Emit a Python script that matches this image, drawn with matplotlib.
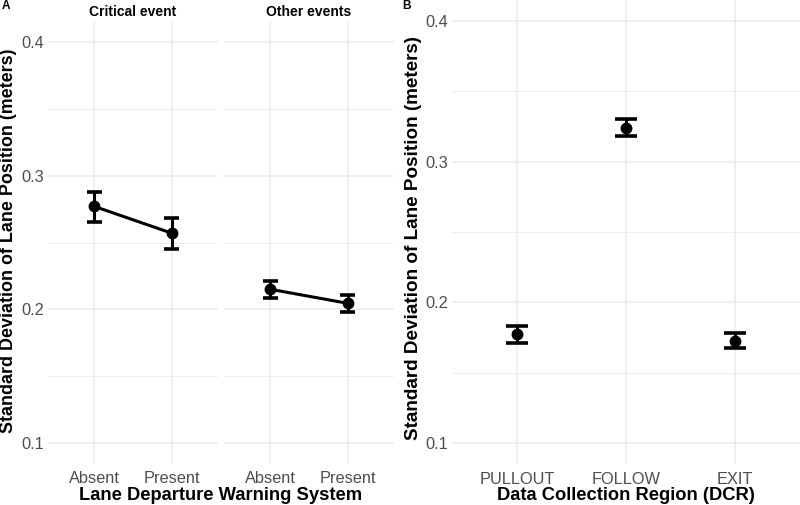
import matplotlib
matplotlib.use("Agg")
import matplotlib.pyplot as plt
from matplotlib.ticker import MultipleLocator

plt.rcParams['font.family'] = ['Liberation Sans', 'DejaVu Sans']

# Panel A data
lwds_levels = ["Absent", "Present"]
facets = ["Critical event", "Other events"]
a_mean = [[0.277, 0.257], [0.215, 0.2045]]
a_low = [[0.265, 0.2455], [0.2082, 0.198]]
a_high = [[0.288, 0.268], [0.2212, 0.2107]]

# Panel B data
dcr_levels = ["PULLOUT", "FOLLOW", "EXIT"]
b_mean = [0.1773, 0.324, 0.1726]
b_low = [0.1714, 0.3184, 0.1672]
b_high = [0.1828, 0.3305, 0.1785]

yticks = [0.1, 0.2, 0.3, 0.4]
ylabel = "Standard Deviation of Lane Position (meters)"

W, H = 800, 505
fig = plt.figure(figsize=(W / 100, H / 100), dpi=100)

def rect(x0, x1, ytop, ybot):
    return [x0 / W, (H - ybot) / H, (x1 - x0) / W, (ybot - ytop) / H]

grid_c = "#ebebeb"
tick_c = "#4d4d4d"
TICK_FS = 11.8
TITLE_FS = 13.2

def style(ax, n, labels, show_y=True):
    ax.set_xlim(0.4, n + 0.6)
    ax.set_ylim(0.085, 0.415)
    ax.set_xticks(range(1, n + 1))
    ax.set_xticklabels(labels, color=tick_c, fontsize=TICK_FS)
    ax.set_yticks(yticks)
    ax.yaxis.set_minor_locator(MultipleLocator(0.05))
    if show_y:
        ax.set_yticklabels([f"{t:.1f}" for t in yticks], color=tick_c, fontsize=TICK_FS)
    else:
        ax.set_yticklabels([])
    for s in ax.spines.values():
        s.set_visible(False)
    ax.tick_params(which='both', length=0)
    ax.tick_params(axis='x', pad=6)
    ax.tick_params(axis='y', pad=3)
    ax.grid(True, which='major', color=grid_c, lw=1.1)
    ax.grid(True, which='minor', axis='y', color=grid_c, lw=0.6)
    ax.set_axisbelow(True)

def draw(ax, xs, m, lo, hi, width, line=False):
    if line:
        ax.plot(xs, m, color='black', lw=2.2, zorder=3)
    ax.vlines(xs, lo, hi, color='black', lw=2.2, zorder=3)
    for x, l, h in zip(xs, lo, hi):
        ax.hlines([l, h], x - width / 2, x + width / 2, color='black', lw=2.6, zorder=3)
    ax.plot(xs, m, 'o', color='black', ms=7.5, zorder=4)

# Panel A facets
axA1 = fig.add_axes(rect(48, 218, 22, 463))
axA2 = fig.add_axes(rect(224, 394, 22, 463))
for i, ax in enumerate([axA1, axA2]):
    style(ax, 2, lwds_levels, show_y=(i == 0))
    draw(ax, [1, 2], a_mean[i], a_low[i], a_high[i], 0.2, line=True)
    ax.set_title(facets[i], fontsize=10, fontweight='bold', pad=4)

fig.text(9 / W, 1 - 240.5 / H, ylabel, rotation=90, ha='center', va='center',
         fontsize=12.9, fontweight='bold')
fig.text(221 / W, 1 - 495 / H, "Lane Departure Warning System", ha='center', va='center',
         fontsize=TITLE_FS, fontweight='bold')

# Panel B
axB = fig.add_axes(rect(452, 800, 0, 464))
style(axB, 3, dcr_levels)
draw(axB, [1, 2, 3], b_mean, b_low, b_high, 0.2)
fig.text(413 / W, 1 - 237.5 / H, ylabel, rotation=90, ha='center', va='center',
         fontsize=13.6, fontweight='bold')
fig.text(626 / W, 1 - 495 / H, "Data Collection Region (DCR)", ha='center', va='center',
         fontsize=TITLE_FS, fontweight='bold')

fig.text(2 / W, 1 - 6 / H, "A", ha='left', va='center', fontsize=8.5, fontweight='bold')
fig.text(402 / W, 1 - 6 / H, "B", ha='left', va='center', fontsize=8.5, fontweight='bold')

fig.savefig("out.png", dpi=100)
